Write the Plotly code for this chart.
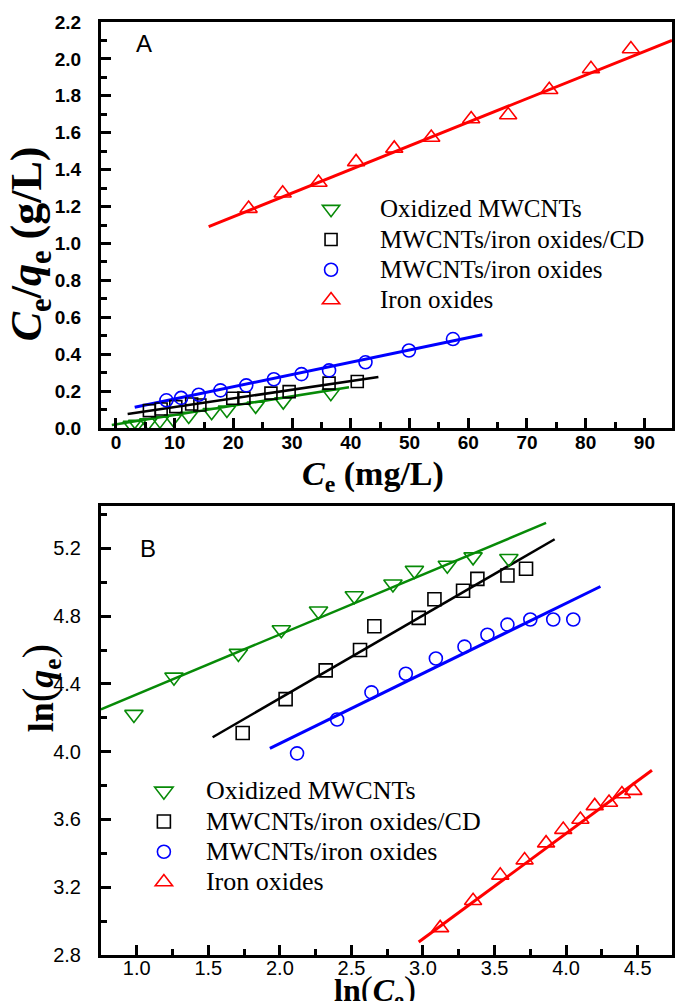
import plotly.graph_objects as go

# ---------------- Panel A data (Ce vs Ce/qe) ----------------
oxid_ce = [2.7, 3.6, 5.5, 7.5, 9.7, 12.4, 16.3, 18.9, 23.8, 28.5, 36.6]
oxid_ratio = [0.016, 0.022, 0.030, 0.040, 0.050, 0.065, 0.085, 0.098, 0.120, 0.143, 0.189]
cd_ce = [5.7, 7.7, 10.2, 12.9, 14.3, 19.9, 21.8, 26.4, 29.5, 36.3, 41.1]
cd_ratio = [0.094, 0.103, 0.116, 0.130, 0.125, 0.161, 0.162, 0.189, 0.197, 0.243, 0.252]
mi_ce = [8.6, 11.1, 14.1, 17.8, 22.2, 26.9, 31.6, 36.3, 42.5, 49.9, 57.4]
mi_ratio = [0.150, 0.163, 0.180, 0.204, 0.231, 0.264, 0.292, 0.312, 0.356, 0.420, 0.482]
fe_ce = [22.6, 28.4, 34.5, 40.9, 47.4, 53.7, 60.5, 66.8, 73.8, 80.9, 87.7]
fe_ratio = [1.189, 1.272, 1.330, 1.442, 1.515, 1.574, 1.674, 1.696, 1.833, 1.946, 2.054]

# fitted lines (Langmuir), endpoints
fitA_oxid_x = [-0.7, 39.7]; fitA_oxid_y = [0.016, 0.221]
fitA_cd_x = [2.0, 44.7];    fitA_cd_y = [0.076, 0.276]
fitA_mi_x = [3.2, 62.4];    fitA_mi_y = [0.112, 0.505]
fitA_fe_x = [15.8, 94.7];   fitA_fe_y = [1.091, 2.101]

# ---------------- Panel B data (ln Ce vs ln qe) ----------------
oxid_lnce = [0.98, 1.26, 1.71, 2.01, 2.27, 2.52, 2.79, 2.94, 3.17, 3.35, 3.60]
oxid_lnqe = [4.22, 4.44, 4.58, 4.72, 4.83, 4.92, 4.99, 5.07, 5.10, 5.15, 5.14]
cd_lnce = [1.74, 2.04, 2.32, 2.56, 2.66, 2.97, 3.08, 3.28, 3.38, 3.59, 3.72]
cd_lnqe = [4.11, 4.31, 4.48, 4.60, 4.74, 4.79, 4.90, 4.95, 5.02, 5.04, 5.08]
mi_lnce = [2.12, 2.40, 2.64, 2.88, 3.09, 3.29, 3.45, 3.59, 3.75, 3.91, 4.05]
mi_lnqe = [3.99, 4.19, 4.35, 4.46, 4.55, 4.62, 4.69, 4.75, 4.78, 4.78, 4.78]
fe_lnce = [3.12, 3.35, 3.54, 3.71, 3.86, 3.98, 4.10, 4.20, 4.30, 4.39, 4.47]
fe_lnqe = [2.96, 3.12, 3.27, 3.36, 3.46, 3.54, 3.60, 3.68, 3.70, 3.75, 3.77]

fitB_oxid_x = [0.75, 3.86]; fitB_oxid_y = [4.25, 5.35]
fitB_cd_x = [1.53, 3.92];   fitB_cd_y = [4.085, 5.254]
fitB_mi_x = [1.93, 4.24];   fitB_mi_y = [4.02, 4.975]
fitB_fe_x = [2.97, 4.60];   fitB_fe_y = [2.877, 3.89]

names = ["Oxidized MWCNTs", "MWCNTs/iron oxides/CD", "MWCNTs/iron oxides", "Iron oxides"]
GREEN = "#078a07"
colors = [GREEN, "#000000", "#0000ff", "#ff0000"]
symbols = ["triangle-down-open", "square-open", "circle-open", "triangle-up-open"]
sizesA = [15, 12, 13, 15]
sizesB = [16, 13, 13, 15]
lw = [2.5, 2.5, 3, 3]

SERIF = "Liberation Serif, Times New Roman, serif"
SANS = "Liberation Sans, Arial, sans-serif"


def legname(s, size):
    return "<span style='font-size:%dpx'>%s</span>" % (size, s)


fig = go.Figure()

ptsA = [(oxid_ce, oxid_ratio), (cd_ce, cd_ratio), (mi_ce, mi_ratio), (fe_ce, fe_ratio)]
fitsA = [(fitA_oxid_x, fitA_oxid_y), (fitA_cd_x, fitA_cd_y), (fitA_mi_x, fitA_mi_y), (fitA_fe_x, fitA_fe_y)]
ptsB = [(oxid_lnce, oxid_lnqe), (cd_lnce, cd_lnqe), (mi_lnce, mi_lnqe), (fe_lnce, fe_lnqe)]
fitsB = [(fitB_oxid_x, fitB_oxid_y), (fitB_cd_x, fitB_cd_y), (fitB_mi_x, fitB_mi_y), (fitB_fe_x, fitB_fe_y)]

for i in range(4):
    fig.add_trace(go.Scatter(x=fitsA[i][0], y=fitsA[i][1], mode="lines",
                             line=dict(color=colors[i], width=lw[i]),
                             showlegend=False, xaxis="x", yaxis="y"))
    fig.add_trace(go.Scatter(x=fitsB[i][0], y=fitsB[i][1], mode="lines",
                             line=dict(color=colors[i], width=lw[i]),
                             showlegend=False, xaxis="x2", yaxis="y2"))
for i in range(4):
    fig.add_trace(go.Scatter(x=ptsA[i][0], y=ptsA[i][1], mode="markers", name=legname(names[i], 25),
                             marker=dict(symbol=symbols[i], size=sizesA[i], color=colors[i],
                                         line=dict(width=1.6, color=colors[i])),
                             xaxis="x", yaxis="y", legend="legend"))
for i in range(4):
    fig.add_trace(go.Scatter(x=ptsB[i][0], y=ptsB[i][1], mode="markers", name=legname(names[i], 26),
                             marker=dict(symbol=symbols[i], size=sizesB[i], color=colors[i],
                                         line=dict(width=1.6, color=colors[i])),
                             xaxis="x2", yaxis="y2", legend="legend2"))


def ax(**kw):
    d = dict(showline=True, linecolor="black", linewidth=3, mirror=True,
             ticks="inside", ticklen=10, tickwidth=3, tickcolor="black",
             showgrid=False, zeroline=False)
    d.update(kw)
    return d


T, B = 22, 46
H = 1001 - T - B
BOT = 1001 - B
domA = [(BOT - 428) / H, 1.0]
domB = [0.0, (BOT - 506) / H]
L, R = 101, 3
W = 678 - L - R


def px_x(p):
    return (p - L) / W


def px_y(p):
    return (BOT - p) / H


title_Ce = "<b><i>C</i><sub>e</sub> (mg/L)</b>"
title_ratio = "<b><i>C</i><sub>e</sub>/<i>q</i><sub>e</sub> (g/L)</b>"
title_lnCe = ("<b>ln</b><span style='font-size:36px'>(</span><b><i>C</i><sub>e</sub></b>"
              "<span style='font-size:36px'>)</span>")
title_lnqe = ("<b>ln</b><span style='font-size:44px'>(</span><b><i>q</i><sub>e</sub></b>"
              "<span style='font-size:44px'>)</span>")

fig.update_layout(
    width=678, height=1001,
    margin=dict(l=L, r=R, t=T, b=B),
    plot_bgcolor="white", paper_bgcolor="white",
    xaxis=ax(domain=[0, 1], anchor="y", range=[-2.54, 94.7],
             tickmode="array", tickvals=[0, 10, 20, 30, 40, 50, 60, 70, 80, 90],
             minor=dict(dtick=5, tick0=0, ticks="inside", ticklen=6, tickwidth=3, tickcolor="black"),
             tickfont=dict(family=SANS, size=19, color="black", weight="bold"),
             ticklabelstandoff=-5),
    yaxis=ax(domain=domA, anchor="x", range=[0, 2.2],
             tickmode="array", tickvals=[0, 0.2, 0.4, 0.6, 0.8, 1.0, 1.2, 1.4, 1.6, 1.8, 2.0, 2.2],
             tickformat=".1f",
             minor=dict(dtick=0.1, tick0=0, ticks="inside", ticklen=6, tickwidth=3, tickcolor="black"),
             tickfont=dict(family=SANS, size=19, color="black", weight="bold"),
             ticklabelstandoff=13),
    xaxis2=ax(domain=[0, 1], anchor="y2", range=[0.75, 4.74],
              tickmode="array", tickvals=[1.0, 1.5, 2.0, 2.5, 3.0, 3.5, 4.0, 4.5],
              tickformat=".1f",
              minor=dict(dtick=0.25, tick0=0, ticks="inside", ticklen=6, tickwidth=3, tickcolor="black"),
              tickfont=dict(family=SANS, size=20, color="black"),
              ticklabelstandoff=-7),
    yaxis2=ax(domain=domB, anchor="x2", range=[2.8, 5.45],
              tickmode="array", tickvals=[2.8, 3.2, 3.6, 4.0, 4.4, 4.8, 5.2],
              tickformat=".1f",
              minor=dict(dtick=0.2, tick0=0, ticks="inside", ticklen=6, tickwidth=3, tickcolor="black"),
              tickfont=dict(family=SANS, size=20, color="black"),
              ticklabelstandoff=13),
    legend=dict(x=px_x(283), y=px_y(189), xanchor="left", yanchor="top",
                font=dict(family=SERIF, size=21, color="black"),
                bgcolor="rgba(0,0,0,0)", borderwidth=0, itemwidth=88, tracegroupgap=0),
    legend2=dict(x=px_x(122), y=px_y(771), xanchor="left", yanchor="top",
                 font=dict(family=SERIF, size=21, color="black"),
                 bgcolor="rgba(0,0,0,0)", borderwidth=0, itemwidth=74, tracegroupgap=0),
    annotations=[
        dict(text="A", xref="paper", yref="paper", x=px_x(144), y=px_y(44),
             xanchor="center", yanchor="middle",
             showarrow=False, font=dict(family=SANS, size=24, color="black")),
        dict(text="B", xref="paper", yref="paper", x=px_x(148), y=px_y(548),
             xanchor="center", yanchor="middle",
             showarrow=False, font=dict(family=SANS, size=24, color="black")),
        dict(text=title_Ce, xref="paper", yref="paper", x=px_x(374), y=px_y(476),
             xanchor="center", yanchor="middle",
             showarrow=False, font=dict(family=SERIF, size=34, color="black")),
        dict(text=title_ratio, xref="paper", yref="paper", x=px_x(30), y=px_y(244),
             xanchor="center", yanchor="middle", textangle=-90,
             showarrow=False, font=dict(family=SERIF, size=44, color="black")),
        dict(text=title_lnCe, xref="paper", yref="paper", x=px_x(376), y=px_y(991),
             xanchor="center", yanchor="middle",
             showarrow=False, font=dict(family=SERIF, size=32, color="black")),
        dict(text=title_lnqe, xref="paper", yref="paper", x=px_x(40), y=px_y(688),
             xanchor="center", yanchor="middle", textangle=-90,
             showarrow=False, font=dict(family=SERIF, size=36, color="black")),
    ],
)

fig.write_html("out.html", config={"displayModeBar": False},
               post_script="document.body.style.margin='0';")
